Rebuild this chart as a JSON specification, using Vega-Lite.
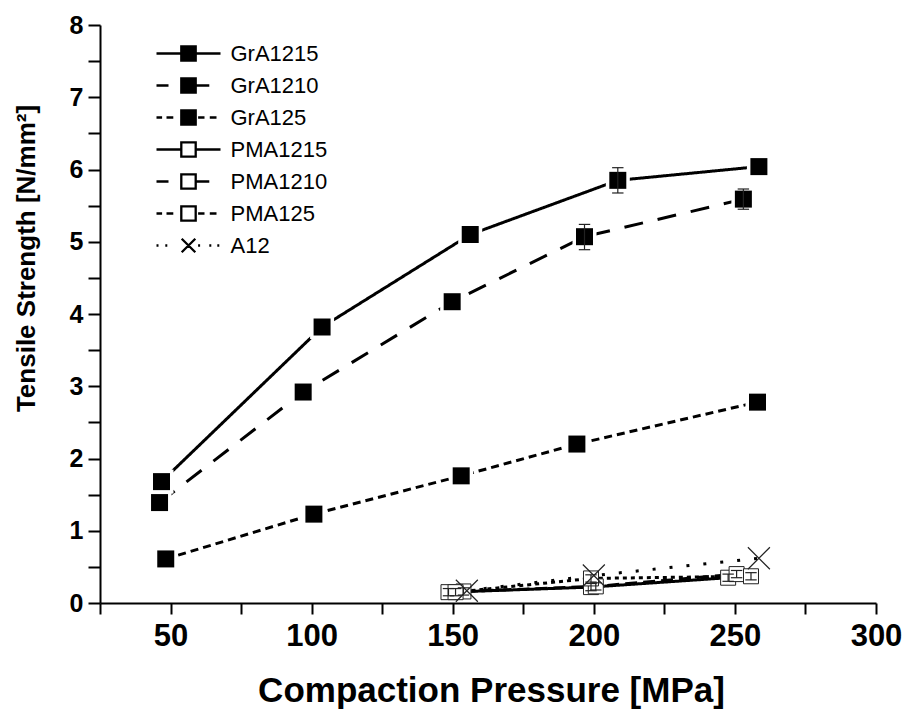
{
  "$schema": "https://vega.github.io/schema/vega-lite/v6.json",
  "width": 776,
  "height": 578,
  "autosize": "none",
  "padding": {"left": 100, "top": 25, "right": 30, "bottom": 111},
  "background": "white",
  "config": {"view": {"stroke": null}, "font": "Liberation Sans"},
  "data": {"values": [
    {"series": "GrA1215", "pressure": 46.8, "strength": 1.68},
    {"series": "GrA1215", "pressure": 103.7, "strength": 3.82},
    {"series": "GrA1215", "pressure": 156.2, "strength": 5.1},
    {"series": "GrA1215", "pressure": 208.5, "strength": 5.85, "lo": 5.675, "hi": 6.025},
    {"series": "GrA1215", "pressure": 258.5, "strength": 6.04},
    {"series": "GrA1210", "pressure": 46.1, "strength": 1.39},
    {"series": "GrA1210", "pressure": 97, "strength": 2.92},
    {"series": "GrA1210", "pressure": 149.8, "strength": 4.17},
    {"series": "GrA1210", "pressure": 196.7, "strength": 5.07, "lo": 4.89, "hi": 5.24},
    {"series": "GrA1210", "pressure": 253, "strength": 5.59, "lo": 5.45, "hi": 5.73},
    {"series": "GrA125", "pressure": 48.3, "strength": 0.61},
    {"series": "GrA125", "pressure": 100.8, "strength": 1.23},
    {"series": "GrA125", "pressure": 153, "strength": 1.76},
    {"series": "GrA125", "pressure": 194, "strength": 2.2},
    {"series": "GrA125", "pressure": 258, "strength": 2.78},
    {"series": "PMA1215", "pressure": 148.5, "strength": 0.15, "lo": 0.1, "hi": 0.2},
    {"series": "PMA1215", "pressure": 199, "strength": 0.22, "lo": 0.17, "hi": 0.27},
    {"series": "PMA1215", "pressure": 247.6, "strength": 0.35, "lo": 0.3, "hi": 0.4},
    {"series": "PMA1210", "pressure": 153.8, "strength": 0.16, "lo": 0.11, "hi": 0.21},
    {"series": "PMA1210", "pressure": 200.7, "strength": 0.23, "lo": 0.18, "hi": 0.28},
    {"series": "PMA1210", "pressure": 250.6, "strength": 0.4, "lo": 0.35, "hi": 0.45},
    {"series": "PMA125", "pressure": 151, "strength": 0.15, "lo": 0.1, "hi": 0.2},
    {"series": "PMA125", "pressure": 199, "strength": 0.34, "lo": 0.29, "hi": 0.39},
    {"series": "PMA125", "pressure": 255.7, "strength": 0.37, "lo": 0.32, "hi": 0.42},
    {"series": "A12", "pressure": 155, "strength": 0.17},
    {"series": "A12", "pressure": 200, "strength": 0.38},
    {"series": "A12", "pressure": 258.5, "strength": 0.62}
  ]},
  "encoding": {
    "x": {"field": "pressure", "type": "quantitative",
      "scale": {"domain": [25, 300], "nice": false, "zero": false},
      "axis": {
        "title": "Compaction Pressure [MPa]",
        "values": [25, 50, 75, 100, 125, 150, 175, 200, 225, 250, 275, 300],
        "labelExpr": "datum.value % 50 === 0 ? '' + datum.value : ''",
        "labelFont": "Liberation Sans", "labelFontWeight": "bold", "labelFontSize": 31,
        "labelColor": "black", "labelPadding": 7, "labelOverlap": false, "labelFlush": false,
        "tickSize": 11,
        "tickWidth": 2, "tickColor": "black", "domainColor": "black", "domainWidth": 2, "grid": false,
        "titleFont": "Liberation Sans", "titleFontWeight": "bold", "titleFontSize": 35,
        "titleColor": "black", "titleX": 391, "titleY": 98, "titleBaseline": "alphabetic",
        "encode": {"ticks": {"update": {"y2": {"signal": "datum.value % 50 === 0 ? 11 : 6"}}}}
      }},
    "y": {"field": "strength", "type": "quantitative",
      "scale": {"domain": [0, 8], "nice": false},
      "axis": {
        "title": "Tensile Strength [N/mm²]",
        "values": [0, 0.5, 1, 1.5, 2, 2.5, 3, 3.5, 4, 4.5, 5, 5.5, 6, 6.5, 7, 7.5, 8],
        "labelExpr": "datum.value % 1 === 0 ? '' + datum.value : ''",
        "labelFont": "Liberation Sans", "labelFontWeight": "bold", "labelFontSize": 25,
        "labelColor": "black", "labelPadding": 5, "labelOverlap": false, "labelFlush": false,
        "tickSize": 12,
        "tickWidth": 2, "tickColor": "black", "domainColor": "black", "domainWidth": 2, "grid": false,
        "titleFont": "Liberation Sans", "titleFontWeight": "bold", "titleFontSize": 26,
        "titleColor": "black", "titleX": -66, "titleY": 233, "titleBaseline": "alphabetic",
        "encode": {"ticks": {"update": {"x2": {"signal": "datum.value % 1 === 0 ? -12 : -7"}}}}
      }}
  },
  "layer": [
    {
      "mark": {"type": "line", "strokeWidth": 3, "color": "black"},
      "encoding": {
        "strokeDash": {"field": "series", "type": "nominal",
          "scale": {"domain": ["A12", "GrA1215", "GrA1210", "GrA125", "PMA1215", "PMA1210", "PMA125"],
            "range": [[3, 14], [1, 0], [19, 15], [8, 5], [1, 0], [12, 6], [4, 4]]},
          "legend": null}
      }
    },
    {
      "transform": [{"filter": "indexof(['GrA1215','GrA1210','GrA125'], datum.series) >= 0"}],
      "mark": {"type": "point", "shape": "square", "filled": true, "color": "white", "opacity": 1, "size": 576},
      "encoding": {}
    },
    {
      "transform": [{"filter": "indexof(['GrA1215','GrA1210','GrA125'], datum.series) >= 0"}],
      "mark": {"type": "point", "shape": "square", "filled": true, "color": "black", "opacity": 1, "size": 289},
      "encoding": {}
    },
    {
      "transform": [{"filter": "indexof(['PMA1215','PMA1210','PMA125'], datum.series) >= 0"}],
      "mark": {"type": "point", "shape": "square", "filled": false, "fill": "white", "stroke": "#222", "strokeWidth": 1, "opacity": 1, "size": 225},
      "encoding": {}
    },
    {
      "transform": [{"filter": "datum.series === 'A12'"}],
      "mark": {"type": "point", "shape": "M-1,-1L1,1M1,-1L-1,1", "filled": false, "stroke": "#222", "strokeWidth": 1.2, "opacity": 1, "size": 484},
      "encoding": {}
    },
    {
      "transform": [{"filter": "datum.lo != null"}],
      "mark": {"type": "rule", "color": "#222", "strokeWidth": 1.2},
      "encoding": {
        "y": {"field": "lo", "type": "quantitative"},
        "y2": {"field": "hi"}
      }
    },
    {
      "transform": [{"filter": "datum.lo != null"}],
      "mark": {"type": "point", "shape": "stroke", "filled": false, "stroke": "#222", "strokeWidth": 1.2, "opacity": 1, "size": 130},
      "encoding": {
        "y": {"field": "lo", "type": "quantitative"}
      }
    },
    {
      "transform": [{"filter": "datum.lo != null"}],
      "mark": {"type": "point", "shape": "stroke", "filled": false, "stroke": "#222", "strokeWidth": 1.2, "opacity": 1, "size": 130},
      "encoding": {
        "y": {"field": "hi", "type": "quantitative"}
      }
    },
    {
      "transform": [{"filter": "false"}],
      "mark": {"type": "point", "filled": true, "opacity": 1, "stroke": "black", "strokeWidth": 2.3},
      "encoding": {
        "shape": {"field": "series", "type": "nominal",
          "scale": {"domain": ["GrA1215", "GrA1210", "GrA125", "PMA1215", "PMA1210", "PMA125", "A12"],
            "range": [
              "M-4,0H-1M1,0H4M-0.9,-0.9H0.9V0.9H-0.9Z",
              "M-4,0H-2.5M1,0H2.6M-0.9,-0.9H0.9V0.9H-0.9Z",
              "M-4,0H-3.3M-2.75,0H-1.9M1.2,0H2M2.66,0H3.5M-0.9,-0.9H0.9V0.9H-0.9Z",
              "M-4,0H-1M1,0H4M-0.9,-0.9H0.9V0.9H-0.9Z",
              "M-4,0H-2.5M1,0H2.6M-0.9,-0.9H0.9V0.9H-0.9Z",
              "M-4,0H-3.3M-2.75,0H-1.9M1.2,0H2M2.66,0H3.5M-0.9,-0.9H0.9V0.9H-0.9Z",
              "M-4,0H-3.75M-2.9,0H-2.65M1.2,0H1.45M2.6,0H2.85M3.6,0H3.85M-0.85,-0.85L0.85,0.85M0.85,-0.85L-0.85,0.85"
            ]},
          "legend": {"title": null, "orient": "none", "legendX": 77.5, "legendY": 17.5,
            "symbolSize": 256, "symbolStrokeWidth": 2.3, "symbolStrokeColor": "black", "symbolOpacity": 1,
            "labelFont": "Liberation Sans", "labelFontSize": 22, "labelColor": "black", "labelOffset": 31, "rowPadding": 8,
            "encode": {"symbols": {"update": {"stroke": {"value": "black"}, "strokeWidth": {"value": 2.3}, "opacity": {"value": 1}}}}}},
        "fill": {"field": "series", "type": "nominal",
          "scale": {"domain": ["GrA1215", "GrA1210", "GrA125", "PMA1215", "PMA1210", "PMA125", "A12"],
            "range": ["black", "black", "black", "white", "white", "white", "white"]},
          "legend": {"title": null, "orient": "none", "legendX": 77.5, "legendY": 17.5,
            "symbolSize": 256, "symbolStrokeWidth": 2.3, "symbolStrokeColor": "black", "symbolOpacity": 1,
            "labelFont": "Liberation Sans", "labelFontSize": 22, "labelColor": "black", "labelOffset": 31, "rowPadding": 8,
            "encode": {"symbols": {"update": {"stroke": {"value": "black"}, "strokeWidth": {"value": 2.3}, "opacity": {"value": 1}}}}}}
      }
    }
  ]
}
